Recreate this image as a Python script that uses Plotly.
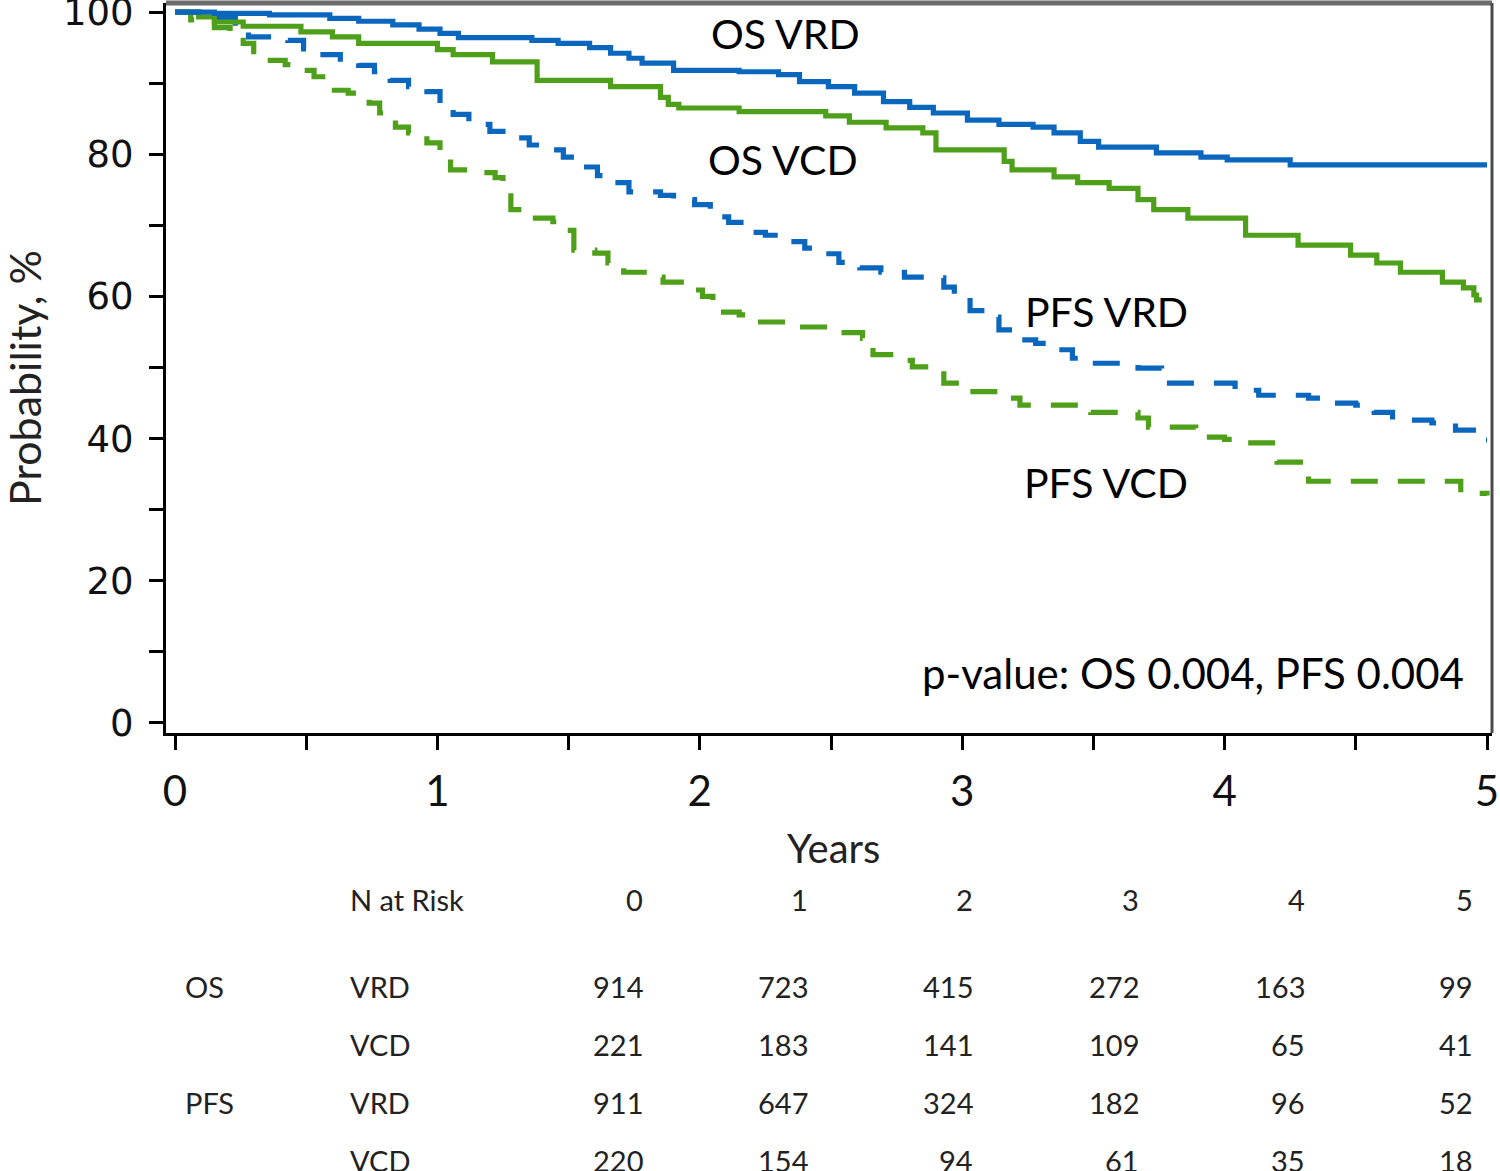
import plotly.graph_objects as go

# ---------------- data ----------------
os_vrd_t = [0, 0.15, 0.36, 0.59, 0.70, 0.83, 0.93, 1.01, 1.08, 1.36, 1.46, 1.58, 1.66, 1.73, 1.78, 1.90,
            2.15, 2.30, 2.38, 2.49, 2.59, 2.70, 2.80, 2.89, 3.02, 3.14, 3.27, 3.35, 3.45, 3.52, 3.74,
            3.91, 4.01, 4.25, 5.0]
os_vrd_v = [100, 99.8, 99.6, 99.1, 98.7, 98.2, 97.6, 97.0, 96.4, 96.0, 95.6, 95.0, 94.2, 93.5, 92.8, 91.8,
            91.6, 91.2, 90.2, 89.5, 88.6, 87.4, 86.6, 85.8, 84.8, 84.2, 83.8, 83.0, 81.8, 81.0, 80.2,
            79.6, 79.2, 78.5, 78.5]

os_vcd_t = [0, 0.09, 0.15, 0.26, 0.48, 0.60, 0.70, 1.00, 1.06, 1.21, 1.38, 1.66, 1.85, 1.88, 1.92,
            2.15, 2.48, 2.57, 2.71, 2.85, 2.90, 3.16, 3.19, 3.35, 3.44, 3.56, 3.67, 3.73, 3.86,
            4.08, 4.28, 4.48, 4.58, 4.67, 4.83, 4.91, 4.95, 4.96, 4.98]
os_vcd_v = [100, 99.3, 98.6, 98.0, 97.2, 96.5, 95.6, 94.7, 94.0, 93.0, 90.4, 89.5, 88.0, 87.0, 86.5,
            86.0, 85.4, 84.5, 83.7, 83.0, 80.6, 79.0, 77.8, 76.8, 76.0, 75.2, 73.6, 72.2, 71.0,
            68.6, 67.2, 65.8, 64.7, 63.4, 62.0, 61.2, 60.2, 59.5, 59.5]

pfs_vrd_t = [0, 0.15, 0.23, 0.28, 0.43, 0.49, 0.55, 0.63, 0.70, 0.76, 0.82, 0.89, 0.96, 1.01, 1.06,
             1.12, 1.20, 1.27, 1.35, 1.43, 1.48, 1.54, 1.61, 1.67, 1.73, 1.85, 1.90, 1.98, 2.04,
             2.11, 2.18, 2.25, 2.32, 2.40, 2.48, 2.53, 2.61, 2.69, 2.78, 2.86, 2.93, 2.97, 3.03,
             3.09, 3.14, 3.18, 3.28, 3.34, 3.42, 3.49, 3.67, 3.76, 3.79, 4.04, 4.13, 4.32, 4.41,
             4.50, 4.57, 4.64, 4.79, 4.88, 4.96, 4.98, 5.0]
pfs_vrd_v = [100, 99.2, 98.0, 96.5, 96.0, 94.8, 94.0, 93.0, 92.5, 91.6, 90.4, 89.5, 88.8, 86.8, 85.6,
             84.2, 83.2, 82.3, 81.3, 80.6, 79.6, 78.2, 77.0, 76.0, 74.7, 74.2, 73.6, 72.9, 71.2,
             70.4, 69.0, 68.6, 67.7, 66.8, 66.0, 64.8, 64.0, 63.4, 62.7, 62.6, 61.3, 60.0, 58.0,
             57.1, 55.3, 53.9, 53.4, 52.5, 51.3, 50.6, 49.9, 48.7, 47.8, 46.8, 46.1, 45.7, 45.0,
             44.7, 43.7, 42.6, 42.2, 41.2, 40.5, 39.8, 39.8]

pfs_vcd_t = [0, 0.06, 0.15, 0.21, 0.26, 0.30, 0.42, 0.47, 0.53, 0.58, 0.66, 0.74, 0.78, 0.84, 0.89,
             0.96, 1.01, 1.05, 1.12, 1.22, 1.25, 1.28, 1.35, 1.44, 1.48, 1.52, 1.60, 1.65, 1.71,
             1.81, 1.86, 1.95, 2.01, 2.05, 2.15, 2.22, 2.37, 2.55, 2.62, 2.66, 2.74, 2.81, 2.88,
             2.93, 3.01, 3.16, 3.22, 3.49, 3.67, 3.71, 3.89, 4.00, 4.05, 4.20, 4.32, 4.90, 5.0]
pfs_vcd_v = [100, 98.9, 97.8, 96.5, 95.6, 93.2, 92.6, 91.8, 90.9, 89.0, 88.6, 87.2, 85.8, 83.8, 83.0,
             81.6, 80.2, 77.8, 77.4, 76.7, 75.4, 72.2, 71.0, 70.5, 69.3, 66.5, 66.1, 64.7, 63.4,
             62.7, 62.0, 60.9, 60.0, 57.8, 57.4, 56.4, 55.7, 54.9, 54.1, 51.8, 51.0, 50.1, 49.9,
             47.8, 46.6, 45.7, 44.7, 43.7, 42.9, 41.6, 40.2, 39.9, 39.4, 36.7, 34.0, 32.3, 32.0]

risk_years = ["0", "1", "2", "3", "4", "5"]
risk_os_vrd = [914, 723, 415, 272, 163, 99]
risk_os_vcd = [221, 183, 141, 109, 65, 41]
risk_pfs_vrd = [911, 647, 324, 182, 96, 52]
risk_pfs_vcd = [220, 154, 94, 61, 35, 18]

# ---------------- style ----------------
BLUE = "#0B67BE"
GREEN = "#4E9F1A"
W, H = 1500, 1171
ML, MR, MT, MB = 166, 8, 3, 438
PW, PH = W - ML - MR, H - MT - MB
TXT = "Lato, 'Open Sans', sans-serif"


def xp(px):
    return (px - ML) / PW


def yp(py):
    return (H - MB - py) / PH


fig = go.Figure()
dash = "27px,20px"
for t, v, c, d in [(pfs_vcd_t, pfs_vcd_v, GREEN, dash),
                   (pfs_vrd_t, pfs_vrd_v, BLUE, dash),
                   (os_vcd_t, os_vcd_v, GREEN, "solid"),
                   (os_vrd_t, os_vrd_v, BLUE, "solid")]:
    fig.add_trace(go.Scatter(x=t, y=v, mode="lines", line_shape="hv",
                             line=dict(color=c, width=5.2, dash=d),
                             showlegend=False, hoverinfo="skip"))

xt = [i * 0.5 for i in range(11)]
yt = list(range(0, 101, 10))
fig.update_layout(
    width=W, height=H,
    margin=dict(l=ML, r=MR, t=MT, b=MB, autoexpand=False),
    paper_bgcolor="white", plot_bgcolor="white",
    showlegend=False,
    xaxis=dict(range=[-0.0343, -0.0343 + PW / 262.4], tickvals=xt,
               ticktext=[risk_years[int(v)] if v == int(v) else "" for v in xt],
               ticks="outside", ticklen=14, tickwidth=2.5, tickcolor="black",
               showline=True, linewidth=3, linecolor="black", showgrid=False, zeroline=False,
               automargin=False, ticklabeloverflow="allow",
               tickfont=dict(family=TXT, size=42, color="#111"), ticklabelstandoff=6),
    yaxis=dict(range=[-1.41, 101.27], tickvals=yt,
               ticktext=[str(v) if v % 20 == 0 else "" for v in yt],
               ticks="outside", ticklen=14, tickwidth=2.5, tickcolor="black",
               showline=True, linewidth=3, linecolor="black", showgrid=False, zeroline=False,
               automargin=False, ticklabeloverflow="allow",
               tickfont=dict(family="DejaVu Sans", size=37, color="#111"), ticklabelstandoff=8),
)

# top/right frame (gray)
fig.add_shape(type="line", xref="paper", yref="paper", x0=0, x1=1, y0=1, y1=1,
              line=dict(color="#6b6b6b", width=5))
fig.add_shape(type="line", xref="paper", yref="paper", x0=1, x1=1, y0=0, y1=1,
              line=dict(color="#4a4a4a", width=3))

# curve labels
for txt, px, py in [("OS VRD", 785, 33), ("OS VCD", 783, 160),
                    ("PFS VRD", 1106, 311), ("PFS VCD", 1106, 482)]:
    fig.add_annotation(text=txt, xref="paper", yref="paper", x=xp(px), y=yp(py),
                       xanchor="center", yanchor="middle", showarrow=False,
                       font=dict(family=TXT, size=41, color="black"))
fig.add_annotation(text="p-value: OS 0.004, PFS 0.004", xref="paper", yref="paper",
                   x=xp(1466), y=yp(673), xanchor="right", yanchor="middle", showarrow=False,
                   font=dict(family=TXT, size=42, color="black"))

# axis titles
fig.add_annotation(text="Probability, %", xref="paper", yref="paper", x=xp(24), y=yp(378),
                   xanchor="center", yanchor="middle", textangle=-90, showarrow=False,
                   font=dict(family=TXT, size=43, color="#222"))
fig.add_annotation(text="Years", xref="paper", yref="paper", x=xp(833), y=yp(848),
                   xanchor="center", yanchor="middle", showarrow=False,
                   font=dict(family=TXT, size=40, color="#222"))

# N at risk table
col_right = [645, 810, 975, 1141, 1307, 1475]
TF = dict(family=TXT, size=29, color="#222")
fig.add_annotation(text="N at Risk", xref="paper", yref="paper", x=xp(348), y=yp(900),
                   xanchor="left", yanchor="middle", showarrow=False, font=TF)
for lab, cx in zip(risk_years, col_right):
    fig.add_annotation(text=lab, xref="paper", yref="paper", x=xp(cx), y=yp(900),
                       xanchor="right", yanchor="middle", showarrow=False, font=TF)
rows = [("OS", "VRD", risk_os_vrd, 986), ("", "VCD", risk_os_vcd, 1044),
        ("PFS", "VRD", risk_pfs_vrd, 1102), ("", "VCD", risk_pfs_vcd, 1160)]
for g, arm, vals, py in rows:
    if g:
        fig.add_annotation(text=g, xref="paper", yref="paper", x=xp(183), y=yp(py),
                           xanchor="left", yanchor="middle", showarrow=False, font=TF)
    fig.add_annotation(text=arm, xref="paper", yref="paper", x=xp(348), y=yp(py),
                       xanchor="left", yanchor="middle", showarrow=False, font=TF)
    for val, cx in zip(vals, col_right):
        fig.add_annotation(text=str(val), xref="paper", yref="paper", x=xp(cx), y=yp(py),
                           xanchor="right", yanchor="middle", showarrow=False, font=TF)

fig.write_html("out.html", config={"displayModeBar": False},
               post_script="document.body.style.margin='0';document.body.style.overflow='hidden';")
